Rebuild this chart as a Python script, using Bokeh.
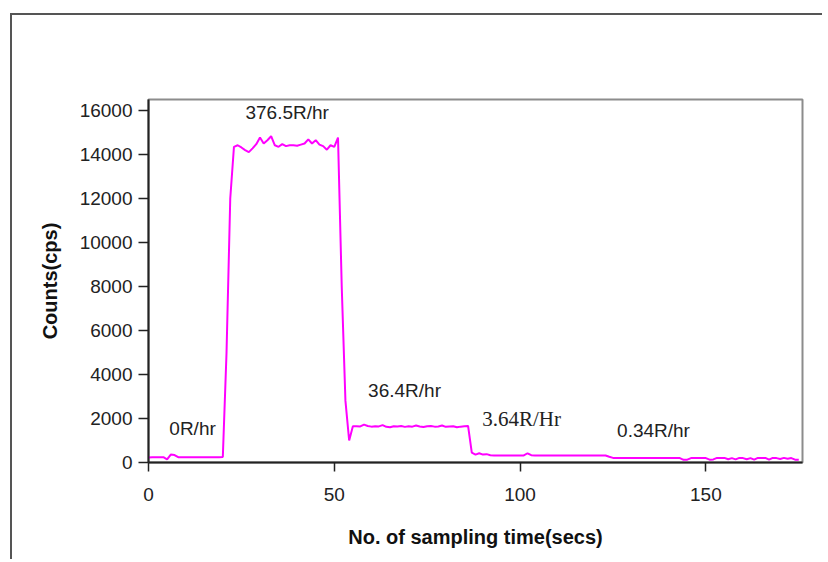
from bokeh.plotting import figure
from bokeh.models import FixedTicker, ColumnDataSource, Label
from bokeh.embed import file_html
from bokeh.resources import INLINE

# ---- data ----
seconds = list(range(0, 176))
counts = [
    230, 240, 240, 240, 240, 140, 360, 340, 240, 240,
    240, 240, 240, 240, 240, 240, 240, 240, 240, 240,
    250, 5000, 12000, 14350, 14420, 14320, 14200, 14110, 14280, 14470,
    14770, 14500, 14650, 14830, 14420, 14350, 14470, 14380, 14420, 14420,
    14400, 14450, 14500, 14690, 14500, 14650, 14450, 14380, 14220, 14420,
    14350, 14770, 8000, 2800, 1000, 1650, 1650, 1640, 1720, 1660,
    1630, 1650, 1640, 1700, 1620, 1600, 1650, 1640, 1660, 1620,
    1650, 1630, 1680, 1640, 1610, 1650, 1660, 1630, 1640, 1680,
    1620, 1640, 1650, 1600, 1630, 1650, 1660, 450, 360, 420,
    360, 380, 330, 320, 320, 320, 320, 320, 320, 320,
    320, 320, 420, 330, 320, 320, 320, 320, 320, 320,
    320, 320, 320, 320, 320, 320, 320, 320, 320, 320,
    320, 320, 320, 320, 260, 210, 210, 210, 210, 210,
    210, 210, 210, 210, 210, 210, 210, 210, 210, 210,
    210, 210, 210, 200, 120, 130, 200, 210, 200, 210,
    200, 130, 140, 210, 200, 210, 150, 200, 140, 210,
    200, 150, 200, 130, 210, 200, 210, 130, 210, 200,
    160, 210, 170, 200, 130, 120,
]
x_ticks = [0, 50, 100, 150]
y_ticks = [0, 2000, 4000, 6000, 8000, 10000, 12000, 14000, 16000]
dose_labels = ["376.5R/hr", "0R/hr", "36.4R/hr", "3.64R/Hr", "0.34R/hr"]

p = figure(width=812, height=546, output_backend="svg", toolbar_location=None,
           x_range=(0, 176), y_range=(0, 16500),
           min_border_left=136, min_border_right=22,
           min_border_top=84, min_border_bottom=99)
p.styles = {"border-top": "2px solid #555555", "border-left": "2px solid #555555",
            "margin-left": "10px", "margin-top": "13px"}

p.xgrid.visible = False
p.ygrid.visible = False
p.outline_line_color = "#8c8c8c"
p.outline_line_width = 2
p.background_fill_color = "white"
p.border_fill_color = "white"

src = ColumnDataSource(dict(t=seconds, c=counts))
p.line("t", "c", source=src, line_color="#ff00ff", line_width=2)

for ax in (p.xaxis[0], p.yaxis[0]):
    ax.axis_line_color = "#222222"
    ax.axis_line_width = 2
    ax.major_tick_line_color = "#222222"
    ax.major_tick_line_width = 1.5
    ax.minor_tick_line_color = None
    ax.major_tick_in = 0
    ax.major_label_text_font = "Liberation Sans"
    ax.major_label_text_font_size = "19px"
    ax.major_label_text_color = "#222222"
    ax.axis_label_text_font = "Liberation Sans"
    ax.axis_label_text_font_style = "bold"
    ax.axis_label_text_font_size = "20px"
    ax.axis_label_text_color = "#111111"

p.xaxis.ticker = FixedTicker(ticks=x_ticks)
p.yaxis.ticker = FixedTicker(ticks=y_ticks)
p.xaxis.major_tick_out = 9
p.yaxis.major_tick_out = 10
p.xaxis.major_label_standoff = 16
p.yaxis.major_label_standoff = 6
p.xaxis.axis_label = "No. of sampling time(secs)"
p.yaxis.axis_label = "Counts(cps)"
p.xaxis.axis_label_standoff = 22
p.yaxis.axis_label_standoff = 16

anchors = [(26.1, 15900), (5.6, 1545), (59.1, 3270), (89.8, 1955), (126.1, 1455)]
fonts = ["Liberation Sans", "Liberation Sans", "Liberation Sans", "Liberation Serif", "Liberation Sans"]
sizes = ["19px", "19px", "19px", "21px", "19px"]
for txt, (ax_, ay_), f, s in zip(dose_labels, anchors, fonts, sizes):
    p.add_layout(Label(x=ax_, y=ay_, text=txt, text_font=f, text_font_size=s,
                       text_color="#222222", text_align="left", text_baseline="middle"))

open("out.html", "w").write(file_html(p, INLINE))
